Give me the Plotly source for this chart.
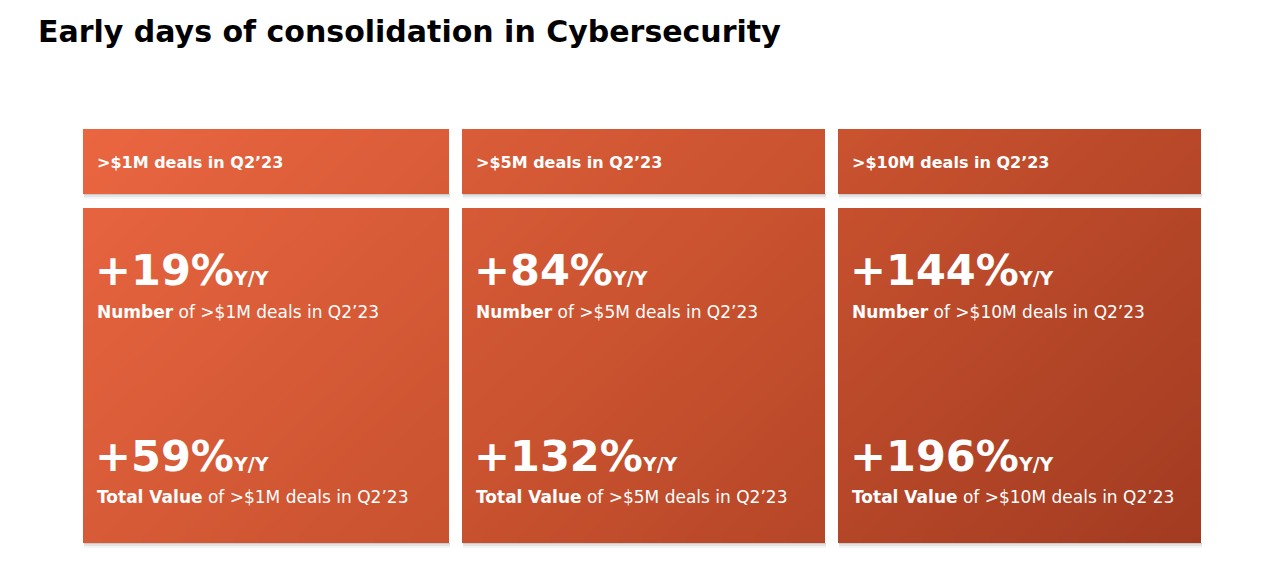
import numpy as np
import plotly.graph_objects as go

# ---- data ----
title = "Early days of consolidation in Cybersecurity"
deal_sizes = ["&gt;$1M", "&gt;$5M", "&gt;$10M"]
number_growth = [19, 84, 144]
value_growth = [59, 132, 196]
quarter = "Q2’23"

# ---- layout geometry (pixels) ----
W, H = 1280, 573
cols = [(83, 449), (462, 825), (838, 1201)]
head_y = (129, 194)
body_y = (208, 543)
GX0, GX1 = 83, 1201
GY0, GY1 = 129, 543
FONT = "DejaVu Sans"

fig = go.Figure()

def grad_box(x0, x1, y0, y1, n=24):
    dx = (x1 - x0) / n
    dy = (y1 - y0) / n
    xs = x0 + dx / 2 + dx * np.arange(n)
    ys = y0 + dy / 2 + dy * np.arange(n)
    X, Y = np.meshgrid(xs, ys)
    Z = 0.72 * (X - GX0) / (GX1 - GX0) + 0.28 * (Y - GY0) / (GY1 - GY0)
    fig.add_trace(go.Heatmap(x=xs, y=ys, z=Z, coloraxis="coloraxis",
                             zsmooth="best", hoverinfo="skip", showscale=False))

shapes = []
for (x0, x1) in cols:
    for (y0, y1) in (head_y, body_y):
        # soft shadow
        for k, a in [(1, 0.10), (3, 0.07), (5, 0.04)]:
            shapes.append(dict(type="rect", xref="x", yref="y", x0=x0 + 1, x1=x1 + 1,
                               y0=y1, y1=y1 + k, line=dict(width=0),
                               fillcolor=f"rgba(0,0,0,{a})", layer="below"))
        grad_box(x0, x1, y0, y1)

annotations = []
annotations.append(dict(text=f"<b>{title}</b>", x=36, y=31, xref="x", yref="y",
                        xanchor="left", yanchor="middle", showarrow=False,
                        font=dict(family=FONT, size=30, color="#000000")))

for i, (x0, x1) in enumerate(cols):
    tx = x0 + 12
    annotations.append(dict(text=f"<b>{deal_sizes[i]} deals in {quarter}</b>",
                            x=tx, y=162, xref="x", yref="y", xanchor="left", yanchor="middle",
                            showarrow=False, font=dict(family=FONT, size=16, color="white")))
    for val, label, cy, sy in [(number_growth[i], "Number", 270, 312),
                               (value_growth[i], "Total Value", 456, 497)]:
        annotations.append(dict(
            text=f"<b>+{val}%<span style='font-size:19px'>Y/Y</span></b>",
            x=tx - 2, y=cy, xref="x", yref="y", xanchor="left", yanchor="middle",
            showarrow=False, font=dict(family=FONT, size=43, color="white")))
        annotations.append(dict(
            text=f"<b>{label}</b> of {deal_sizes[i]} deals in {quarter}",
            x=tx, y=sy, xref="x", yref="y", xanchor="left", yanchor="middle",
            showarrow=False, font=dict(family=FONT, size=17, color="white")))

fig.update_layout(
    width=W, height=H,
    margin=dict(l=0, r=0, t=0, b=0),
    paper_bgcolor="white", plot_bgcolor="white",
    xaxis=dict(range=[0, W], visible=False, fixedrange=True),
    yaxis=dict(range=[H, 0], visible=False, fixedrange=True),
    coloraxis=dict(cmin=0, cmax=1, showscale=False,
                   colorscale=[[0, "#EA6641"], [0.5, "#C9522F"], [1, "#A23B21"]]),
    shapes=shapes, annotations=annotations, showlegend=False,
)

fig.write_html("out.html", config={"displayModeBar": False},
               post_script="document.body.style.margin='0';")
